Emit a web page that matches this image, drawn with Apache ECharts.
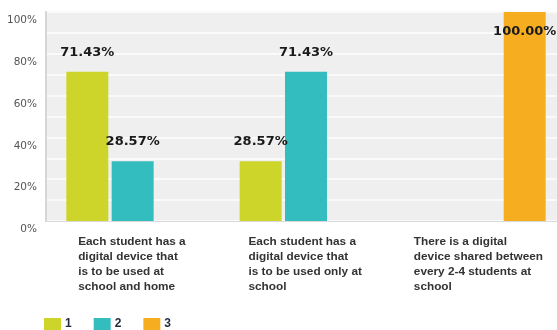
<!DOCTYPE html>
<html>
<head>
<meta charset="utf-8">
<script src="https://cdn.jsdelivr.net/npm/echarts@6/dist/echarts.min.js"></script>
<style>
  html, body { margin: 0; padding: 0; background: #ffffff; }
  #chart { width: 557px; height: 330px; }
</style>
</head>
<body>
<div id="chart"></div>
<script>
// Answer options (wrapped the way they appear under each group)
const categories = [
  'Each student has a\ndigital device that\nis to be used at\nschool and home',
  'Each student has a\ndigital device that\nis to be used only at\nschool',
  'There is a digital\ndevice shared between\nevery 2-4 students at\nschool'
];
const seriesNames = ['1', '2', '3'];
// Percent of responses per answer option
const values1 = [71.43, 28.57, null];
const values2 = [28.57, 71.43, null];
const values3 = [null, null, 100.00];
const yTicks = [0, 20, 40, 60, 80, 100];

const colors = ['#cdd52b', '#34bdbe', '#f6ae20'];
const catFontSize = 11.8;
const catFont = 'bold ' + catFontSize + 'px "Liberation Sans", Arial, sans-serif';

// Width of the longest line of each category label, so every block can be
// centred under its group while its lines stay left-aligned.
const ctx = document.createElement('canvas').getContext('2d');
ctx.font = catFont;
const rich = {};
categories.forEach((c, i) => {
  const w = Math.max(...c.split('\n').map(l => ctx.measureText(l).width));
  rich['c' + i] = {
    width: Math.ceil(w) + 1,
    align: 'left',
    fontFamily: '"Liberation Sans", Arial, sans-serif',
    fontWeight: 'bold',
    fontSize: catFontSize,
    lineHeight: 15,
    color: '#333333'
  };
});

function toData(arr) {
  return arr.map(v => {
    if (v === null) return '-';
    if (v >= 100) {
      // a full bar carries its label just inside the top
      return { value: v, label: { position: 'insideTop', distance: 13 } };
    }
    return v;
  });
}

const allValues = [values1, values2, values3];
const series = seriesNames.map((name, i) => ({
  name: name,
  type: 'bar',
  data: toData(allValues[i]),
  barWidth: 42,
  barGap: '8%',
  itemStyle: { color: colors[i] },
  label: {
    show: true,
    position: 'top',
    distance: 13,
    formatter: p => Number(p.value).toFixed(2) + '%',
    fontFamily: '"DejaVu Sans", Verdana, sans-serif',
    fontWeight: 'bold',
    fontSize: 13,
    color: '#1a1a1a'
  },
  emphasis: { disabled: true }
}));

const chart = echarts.init(document.getElementById('chart'), null, { renderer: 'canvas' });
chart.setOption({
  animation: false,
  color: colors,
  grid: {
    left: 46,
    top: 12,
    width: 520,
    height: 209,
    outerBoundsMode: 'none',
    containLabel: false,
    show: true,
    backgroundColor: '#efefef',
    borderWidth: 0
  },
  legend: {
    data: seriesNames,
    left: 44,
    top: 318,
    padding: 0,
    icon: 'rect',
    itemWidth: 17,
    itemHeight: 12,
    itemGap: 22,
    textStyle: {
      fontFamily: '"Liberation Sans", Arial, sans-serif',
      fontWeight: 'bold',
      fontSize: 12,
      color: '#1f2a3c',
      padding: [0, 0, 0, -1]
    }
  },
  xAxis: {
    type: 'category',
    data: categories,
    axisLine: { show: true, lineStyle: { color: '#d9d9d9', width: 1 } },
    axisTick: { show: false },
    axisLabel: {
      interval: 0,
      margin: 13,
      formatter: (v, i) => v.split('\n').map(l => '{c' + i + '|' + l + '}').join('\n'),
      rich: rich
    }
  },
  yAxis: {
    type: 'value',
    min: yTicks[0],
    max: yTicks[yTicks.length - 1],
    interval: 20,
    axisLine: { show: true, lineStyle: { color: '#d6d6d6', width: 2 } },
    axisTick: { show: false },
    axisLabel: {
      margin: 9,
      formatter: v => v + '%',
      fontFamily: '"DejaVu Sans", Verdana, sans-serif',
      fontSize: 10.5,
      color: '#555555',
      verticalAlign: 'top',
      lineHeight: 17
    },
    splitLine: { show: true, lineStyle: { color: '#fafafa', width: 2 } },
    minorTick: { show: false, splitNumber: 2 },
    minorSplitLine: { show: true, lineStyle: { color: '#fafafa', width: 2 } }
  },
  series: series
});
</script>
</body>
</html>
